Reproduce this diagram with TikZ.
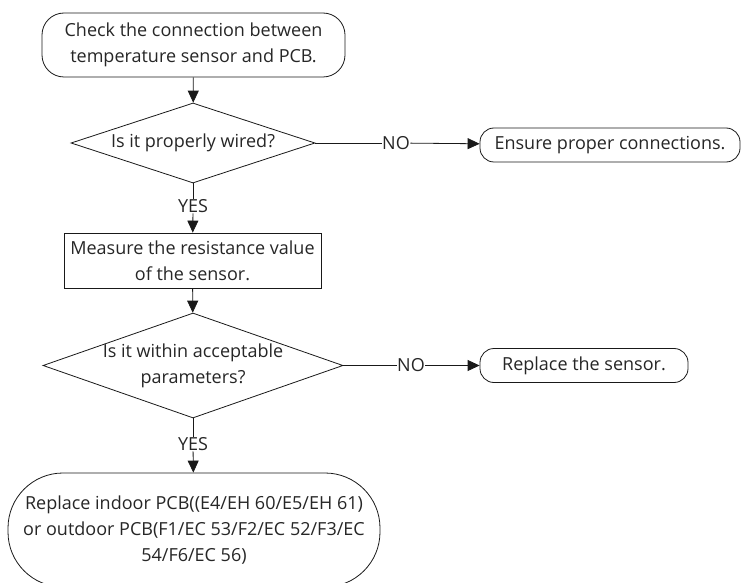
\documentclass[tikz,border=0pt]{standalone}
\usepackage{fontspec}
\setmainfont{Open Sans}
\usetikzlibrary{shapes.geometric,arrows.meta}
\begin{document}
\begin{tikzpicture}[x=1pt,y=-1pt,
  every node/.style={font=\fontsize{18}{26}\selectfont, text=black!85},
  line/.style={draw=black!90, line width=0.8pt},
  arr/.style={line, -{Triangle[length=12pt,width=11pt]}},
  term/.style={draw=black!90, line width=0.8pt, align=center, inner sep=0pt},
  proc/.style={draw=black!90, line width=0.8pt, align=center, inner sep=0pt},
  dec/.style={draw=black!90, line width=0.8pt, diamond, inner sep=0pt},
  lbl/.style={inner sep=0.5pt},
  txt/.style={align=center, inner sep=0pt},
]
\useasboundingbox (0,0) rectangle (742,583);
\clip (0,0) rectangle (742,583);
\node[term, rounded corners=22pt, minimum width=303pt, minimum height=64pt] (start) at (193.5,45) {Check the connection between\\temperature sensor and PCB.};
\node[dec, minimum width=244pt, minimum height=80pt] (d1) at (193,143) {};
\node[txt] (d1t) at (d1.center) {Is it properly wired?};
\node[term, rounded corners=14pt, minimum width=260pt, minimum height=34pt] (ensure) at (610,145) {Ensure proper connections.};
\node[lbl] (no1) at (396,143) {NO};
\node[lbl] (yes1) at (193,206) {YES};
\node[proc, minimum width=257pt, minimum height=55pt] (meas) at (192.5,260.5) {Measure the resistance value\\of the sensor.};
\node[dec, minimum width=300pt, minimum height=105pt] (d2) at (193,365.5) {};
\node[txt] (d2t) at (d2.center) {Is it within acceptable\\parameters?};
\node[lbl] (no2) at (411,365.5) {NO};
\node[term, rounded corners=14pt, minimum width=208pt, minimum height=34pt] (repl) at (584,365.5) {Replace the sensor.};
\node[lbl] (yes2) at (193,444) {YES};
\node[term, rounded corners=55pt, minimum width=372pt, minimum height=114pt] (pcb) at (194,530) {Replace indoor PCB((E4/EH 60/E5/EH 61)\\or outdoor PCB(F1/EC 53/F2/EC 52/F3/EC\\54/F6/EC 56)};
\draw[arr] (start) -- (d1);
\draw[line] (d1.east) -- (no1);
\draw[arr] (no1) -- (ensure);
\draw[line] (d1.south) -- (yes1);
\draw[arr] (yes1) -- (meas);
\draw[arr] (meas) -- (d2);
\draw[line] (d2.east) -- (no2);
\draw[arr] (no2) -- (repl);
\draw[line] (d2.south) -- (yes2);
\draw[arr] (yes2) -- (pcb);
\end{tikzpicture}
\end{document}
